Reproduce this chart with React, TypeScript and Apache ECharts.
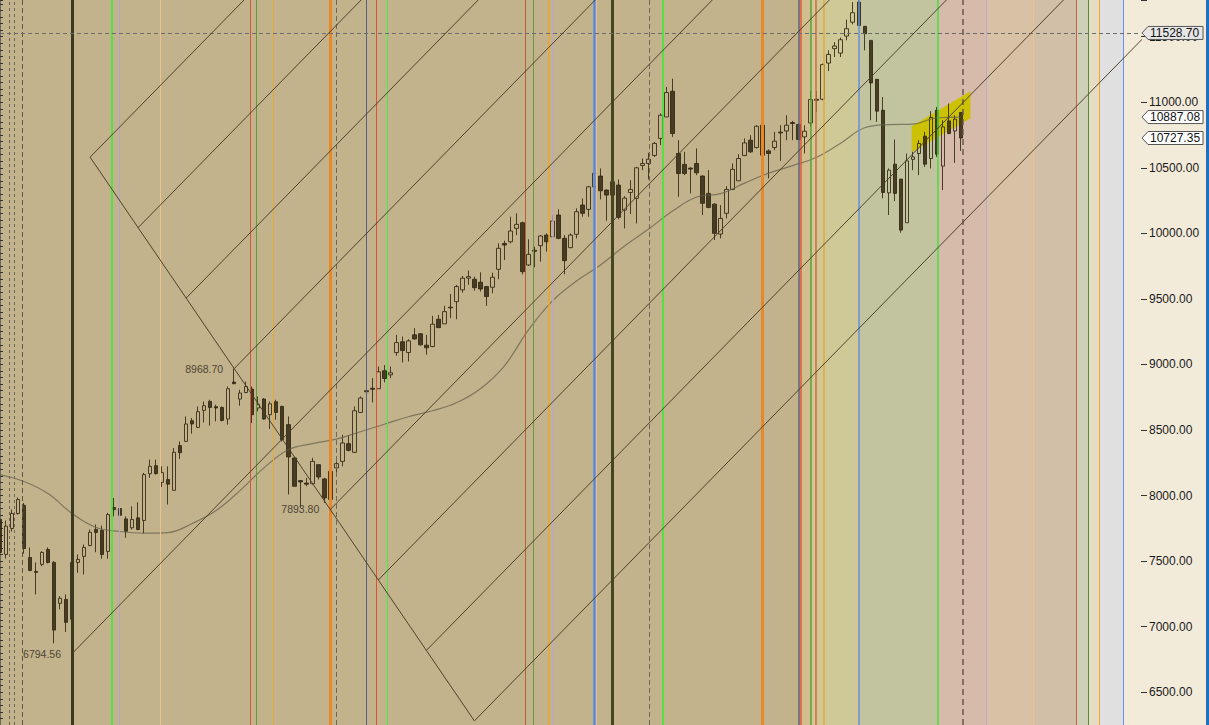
import React, { useEffect, useRef } from "react";
import * as echarts from "echarts";

// ---------- data ----------
const CATEGORY_COUNT = 191;
const categories = Array.from({ length: CATEGORY_COUNT }, (_, i) => String(i));

// [open, close, low, high]
const candles: number[][] = [
  [7817, 7566, 7528, 7855], [7551, 7766, 7520, 7810], [7749, 7863, 7726, 7893], [7863, 7970, 7855, 7985],
  [7926, 7596, 7556, 7944], [7528, 7429, 7424, 7604], [7421, 7414, 7246, 7490], [7475, 7566, 7462, 7576],
  [7589, 7490, 7482, 7604], [7490, 6974, 6873, 7500], [7178, 7216, 7132, 7233], [7208, 7033, 6959, 7246],
  [7056, 7490, 6794.56, 7495], [7490, 7513, 7411, 7551], [7536, 7604, 7398, 7627], [7619, 7720, 7614, 7741],
  [7741, 7718, 7568, 7779], [7733, 7551, 7518, 7771], [7574, 7855, 7518, 7868], [7909, 7893, 7842, 7982],
  [7901, 7850, 7842, 7990], [7822, 7728, 7678, 7842], [7754, 7817, 7741, 7918], [7830, 7741, 7736, 7949],
  [7810, 8160, 7711, 8173], [8167, 8223, 8135, 8274], [8228, 8167, 8160, 8274], [8101, 8175, 8066, 8223],
  [8122, 8087, 7931, 8223], [8040, 8330, 8040, 8363], [8381, 8327, 8279, 8413], [8413, 8546, 8413, 8604],
  [8571, 8546, 8472, 8592], [8520, 8640, 8515, 8680], [8650, 8685, 8558, 8718], [8718, 8672, 8533, 8731],
  [8678, 8668, 8566, 8693], [8672, 8573, 8566, 8680], [8584, 8815, 8541, 8832], [8866, 8853, 8850, 8968.7],
  [8736, 8782, 8685, 8807], [8786, 8832, 8782, 8870], [8812, 8617, 8553, 8832], [8668, 8693, 8642, 8756],
  [8736, 8584, 8579, 8744], [8617, 8700, 8508, 8718], [8716, 8634, 8579, 8731], [8680, 8426, 8413, 8685],
  [8541, 8295, 8008, 8604], [8287, 8071, 8071, 8295], [8114, 8104, 7906, 8117], [8095, 8087, 8071, 8135],
  [8091, 8261, 8084, 8287], [8236, 8142, 8122, 8236], [8127, 7982, 7944, 8135], [7970, 8185, 7893.8, 8185],
  [8211, 8244, 8147, 8261], [8261, 8401, 8223, 8464], [8396, 8345, 8337, 8457], [8330, 8647, 8325, 8680],
  [8634, 8744, 8630, 8756], [8800, 8792, 8706, 8889], [8818, 8811, 8710, 8896], [8815, 8944, 8815, 8984],
  [8952, 8893, 8863, 8995], [8921, 8937, 8896, 8984], [9091, 9167, 9066, 9226], [9173, 9106, 9015, 9213],
  [9091, 9180, 9023, 9193], [9226, 9195, 9188, 9277], [9234, 9150, 9144, 9239], [9147, 9127, 9074, 9226],
  [9137, 9307, 9132, 9371], [9345, 9281, 9277, 9378], [9310, 9403, 9310, 9447], [9437, 9432, 9353, 9538],
  [9479, 9594, 9345, 9607], [9569, 9658, 9548, 9675], [9658, 9670, 9607, 9716], [9650, 9586, 9563, 9670],
  [9627, 9576, 9556, 9703], [9594, 9518, 9447, 9599], [9589, 9665, 9543, 9700], [9726, 9886, 9650, 9924],
  [9923, 9911, 9797, 9944], [9936, 10018, 9924, 10127], [10038, 10069, 9987, 10153], [10081, 9708, 9688, 10089],
  [9759, 9840, 9751, 9955], [9871, 9863, 9741, 9898], [9906, 9980, 9784, 9987], [9987, 9936, 9860, 10000],
  [9974, 10094, 9974, 10140], [10140, 9962, 9955, 10183], [9962, 9792, 9688, 9987], [9891, 9987, 9886, 10000],
  [9993, 10165, 9962, 10191], [10216, 10153, 10127, 10267], [10183, 10355, 10127, 10360], [10355, 10459, 10330, 10498],
  [10437, 10325, 10259, 10495], [10330, 10292, 10096, 10335], [10292, 10393, 10284, 10421], [10368, 10122, 10107, 10411],
  [10178, 10269, 10038, 10284], [10312, 10335, 10147, 10406], [10267, 10500, 10076, 10507], [10518, 10533, 10482, 10571],
  [10533, 10566, 10411, 10614], [10594, 10686, 10583, 10698], [10724, 10901, 10673, 10914], [10888, 11074, 10888, 11117],
  [11084, 10762, 10736, 11180], [10609, 10457, 10279, 10711], [10526, 10457, 10444, 10622], [10498, 10490, 10305, 10503],
  [10533, 10462, 10444, 10648], [10437, 10229, 10140, 10444], [10305, 10198, 10191, 10482], [10223, 10000, 9949, 10229],
  [9995, 10114, 9962, 10216], [10153, 10335, 10114, 10360], [10335, 10488, 10330, 10533], [10401, 10571, 10401, 10604],
  [10594, 10690, 10589, 10724], [10711, 10622, 10614, 10749], [10655, 10817, 10647, 10825], [10825, 10596, 10596, 10825],
  [10629, 10609, 10419, 10640], [10655, 10703, 10634, 10774], [10772, 10766, 10553, 10825], [10781, 10825, 10711, 10901],
  [10845, 10838, 10711, 10858], [10830, 10716, 10711, 10838], [10736, 10779, 10609, 10825], [10842, 11021, 10812, 11086],
  [11023, 11015, 10926, 11086], [11023, 11287, 11015, 11295], [11299, 11365, 11238, 11396], [11409, 11429, 11345, 11459],
  [11375, 11477, 11345, 11493], [11505, 11561, 11472, 11630], [11611, 11683, 11594, 11764], [11764, 11586, 11586, 11790],
  [11579, 11523, 11396, 11579], [11472, 11147, 10863, 11472], [11175, 10932, 10850, 11175], [10939, 10312, 10267, 11040],
  [10309, 10482, 10140, 10495], [10528, 10305, 10246, 10716], [10414, 10025, 10005, 10414], [10081, 10553, 10081, 10609],
  [10564, 10583, 10482, 10622], [10609, 10686, 10444, 10711], [10741, 10528, 10507, 10774], [10571, 10884, 10495, 10932],
  [10939, 10604, 10583, 10964], [10513, 10812, 10330, 10863], [10858, 10762, 10756, 10990], [10781, 10871, 10538, 10901],
  [10922, 10727.35, 10629, 10922],
];

// moving average: [bar, value]
const maPoints: number[][] = [
  [0, 8160], [4, 8107], [8, 8015], [12, 7863], [16, 7756], [20, 7726], [24, 7714], [28, 7718],
  [32, 7787], [36, 7886], [40, 8040], [44, 8213], [48, 8350], [52, 8396], [56, 8430], [60, 8487],
  [64, 8544], [68, 8601], [72, 8647], [76, 8708], [80, 8815], [84, 8990], [88, 9264], [92, 9485],
  [96, 9637], [100, 9759], [104, 9904], [108, 10033], [112, 10170], [116, 10277], [120, 10303], [124, 10383],
  [128, 10459], [132, 10517], [136, 10581], [140, 10688], [144, 10806], [148, 10829], [152, 10833], [156, 10882],
  [160, 10887.08],
];

const extremes = [
  { bar: 12, value: 6794.56, text: "6794.56" },
  { bar: 39, value: 8968.7, text: "8968.70" },
  { bar: 55, value: 7893.8, text: "7893.80" },
];

const priceTags = [
  { value: 11528.7, text: "11528.70", fill: "#e6e6e6" },
  { value: 10887.08, text: "10887.08", fill: "#ffffff" },
  { value: 10727.35, text: "10727.35", fill: "#ffffff" },
];

const horizontalLevel = 11528.7;

// gann-style fan anchors
const fanHigh = { bar: 39, value: 8968.7 };
const fanLow = { bar: 55, value: 7893.8 };
const baseLow = { bar: 12, value: 6794.56 };
const fanStartBars = [15, 23, 31, 39, 55, 63, 71, 79];
const fanFirst = 15;
const fanLast = 79;

const bands = [
  { from: 133, to: 135, color: "#D1BD8E" },
  { from: 135, to: 143, color: "#CFC897" },
  { from: 143, to: 156.17, color: "#C2C39F" },
  { from: 156.17, to: 164.2, color: "#D6BBAB" },
  { from: 164.2, to: 172, color: "#D8C2A5" },
  { from: 172, to: 179.23, color: "#D1BFA8" },
  { from: 179.23, to: 181.17, color: "#CED1B6" },
  { from: 181.17, to: 183.07, color: "#E6DBC3" },
  { from: 183.07, to: 187, color: "#E0E0E0" },
  { from: 187, to: 190, color: "#F3EBDA" },
];

const verticalLines: { bar: number; color: string; width: number; type?: any }[] = [
  { bar: 1.5, color: "#6f6655", width: 1, type: [3, 3] },
  { bar: 2.45, color: "#6f6655", width: 1, type: [3, 3] },
  { bar: 3.67, color: "#5f5645", width: 1, type: [5, 3] },
  { bar: 12, color: "#3a3a1e", width: 3 },
  { bar: 18.67, color: "#2ef02e", width: 1.5 },
  { bar: 19.83, color: "#b4a5c4", width: 1 },
  { bar: 26.73, color: "#f3c08c", width: 1 },
  { bar: 41.67, color: "#d8583a", width: 1 },
  { bar: 42.67, color: "#5aa03a", width: 1 },
  { bar: 45.5, color: "#e6a838", width: 1 },
  { bar: 55, color: "#e8882a", width: 3 },
  { bar: 56, color: "#6f6655", width: 1, type: [5, 3] },
  { bar: 61, color: "#5c6080", width: 1 },
  { bar: 62.73, color: "#e05030", width: 1 },
  { bar: 64.5, color: "#44ee44", width: 1 },
  { bar: 87.5, color: "#b86038", width: 1 },
  { bar: 88.83, color: "#6a9a48", width: 1 },
  { bar: 91.4, color: "#e6a830", width: 1.5 },
  { bar: 92, color: "#c0a8c0", width: 1.5 },
  { bar: 99, color: "#5a8ae0", width: 2.5 },
  { bar: 99.28, color: "#f0c090", width: 1 },
  { bar: 102, color: "#45451f", width: 3 },
  { bar: 108.17, color: "#6f6655", width: 1, type: [5, 3] },
  { bar: 110.4, color: "#2ef02e", width: 1.5 },
  { bar: 127, color: "#e8882a", width: 3 },
  { bar: 133, color: "#5c6080", width: 1.5 },
  { bar: 133.33, color: "#e05a30", width: 1.5 },
  { bar: 135, color: "#5aa03a", width: 1.5 },
  { bar: 135.83, color: "#d86a3a", width: 1.5 },
  { bar: 137.17, color: "#e6a838", width: 1.5 },
  { bar: 143, color: "#6a90d8", width: 1.5 },
  { bar: 156.17, color: "#44e044", width: 1.5 },
  { bar: 160.33, color: "#6a5850", width: 1.5, type: [6, 4] },
  { bar: 164.2, color: "#c4a8c8", width: 1 },
  { bar: 172, color: "#f3c08c", width: 1 },
  { bar: 179.23, color: "#c86050", width: 1 },
  { bar: 181.17, color: "#5a8a40", width: 1 },
  { bar: 183.07, color: "#f0a830", width: 1 },
  { bar: 187, color: "#6a90f0", width: 1 },
];

const highlightBox = { fromBar: 151.8, toBar: 161.6, fromLow: 10619, fromHigh: 10817, toLow: 10878, toHigh: 11084 };

const Y_MIN = 6250;
const Y_MAX = 11780;

export default function App() {
  const ref = useRef<HTMLDivElement>(null);

  useEffect(() => {
    if (!ref.current) return;
    const chart = echarts.init(ref.current, undefined, { renderer: "svg" });

    const fanSlope = (fanHigh.value - fanLow.value) / (fanLow.bar - fanHigh.bar);
    const onFan = (b: number) => fanHigh.value - fanSlope * (b - fanHigh.bar);
    const midBar = (fanHigh.bar + fanLow.bar) / 2;
    const riseSlope = (onFan(midBar) - baseLow.value) / (midBar - baseLow.bar);
    const span = 160;

    const lineStyle = { color: "rgba(72,60,38,0.95)", width: 1 };
    const fanSeries: any[] = [];
    const mkLine = (pts: number[][]) => ({
      type: "line",
      xAxisIndex: 1,
      yAxisIndex: 0,
      data: pts,
      showSymbol: false,
      symbol: "none",
      lineStyle,
      silent: true,
      z: 5,
    });
    fanSeries.push(mkLine([[fanFirst, onFan(fanFirst)], [fanLast, onFan(fanLast)]]));
    fanSeries.push(mkLine([[baseLow.bar, baseLow.value], [baseLow.bar + span, baseLow.value + span * riseSlope]]));
    fanStartBars.forEach((b) => {
      const v = onFan(b);
      fanSeries.push(mkLine([[b, v], [b + span, v + span * riseSlope]]));
    });

    const candleColor = "rgba(50,40,18,0.86)";

    const option: any = {
      animation: false,
      backgroundColor: "transparent",
      grid: { left: 0, right: 68, top: 0, bottom: 0, show: true, backgroundColor: "#C3B38C", borderWidth: 0 },
      xAxis: [
        { type: "category", data: categories, boundaryGap: false, show: false },
        { type: "value", min: 0, max: CATEGORY_COUNT - 1, show: false },
      ],
      yAxis: [
        {
          type: "value",
          position: "right",
          min: Y_MIN,
          max: Y_MAX,
          interval: 50,
          axisLine: { show: true, lineStyle: { color: "#6a6a5e", width: 1 } },
          axisTick: { show: true, length: 3, lineStyle: { color: "#333" } },
          splitLine: { show: false },
          axisLabel: {
            show: true,
            margin: 8,
            color: "#1a1a1a",
            fontFamily: "Liberation Sans",
            fontSize: 12,
            formatter: (v: number) => (Math.abs(v % 500) < 1e-6 ? v.toFixed(2) : ""),
          },
        },
        {
          type: "value",
          position: "right",
          min: Y_MIN,
          max: Y_MAX,
          splitNumber: 11,
          axisLine: { show: false },
          axisTick: { show: true, length: 6, lineStyle: { color: "#333" } },
          splitLine: { show: false },
          axisLabel: { show: false },
        },
      ],
      series: [
        {
          type: "line",
          xAxisIndex: 1,
          yAxisIndex: 0,
          data: [[0, Y_MIN]],
          symbol: "none",
          lineStyle: { width: 0 },
          silent: true,
          z: 1,
          markArea: {
            silent: true,
            data: bands.map((b) => [{ xAxis: b.from, itemStyle: { color: b.color } }, { xAxis: b.to }]),
          },
        },
        {
          type: "custom",
          xAxisIndex: 1,
          yAxisIndex: 0,
          data: [[highlightBox.fromBar, highlightBox.fromLow]],
          silent: true,
          z: 2,
          renderItem: (_p: any, api: any) => ({
            type: "polygon",
            shape: {
              points: [
                api.coord([highlightBox.fromBar, highlightBox.fromLow]),
                api.coord([highlightBox.fromBar, highlightBox.fromHigh]),
                api.coord([highlightBox.toBar, highlightBox.toHigh]),
                api.coord([highlightBox.toBar, highlightBox.toLow]),
              ],
            },
            style: { fill: "#CCC102" },
          }),
        },
        {
          type: "candlestick",
          xAxisIndex: 0,
          yAxisIndex: 0,
          data: candles,
          barWidth: 4,
          z: 3,
          itemStyle: {
            color: "rgba(0,0,0,0)",
            color0: candleColor,
            borderColor: candleColor,
            borderColor0: candleColor,
            borderWidth: 1,
          },
        },
        {
          type: "line",
          xAxisIndex: 1,
          yAxisIndex: 0,
          data: maPoints,
          smooth: 0.4,
          symbol: "none",
          showSymbol: false,
          lineStyle: { color: "rgba(100,94,74,0.72)", width: 1.2 },
          silent: true,
          z: 4,
          markPoint: {
            symbol: "rect",
            symbolSize: 0,
            silent: true,
            label: {
              show: true,
              position: "left",
              distance: 11,
              color: "#4d4535",
              fontFamily: "Liberation Sans",
              fontSize: 10.5,
              formatter: (p: any) => p.name,
            },
            data: extremes.map((e) => ({ name: e.text, coord: [e.bar, e.value] })),
          },
        },
        ...fanSeries,
        {
          type: "line",
          xAxisIndex: 1,
          yAxisIndex: 0,
          data: [[0, Y_MIN]],
          symbol: "none",
          lineStyle: { width: 0 },
          silent: true,
          z: 6,
          markLine: {
            silent: true,
            symbol: ["none", "none"],
            label: { show: false },
            data: [
              ...verticalLines.map((l) => ({
                xAxis: l.bar,
                lineStyle: { color: l.color, width: l.width, type: l.type || "solid", opacity: 1 },
              })),
              { yAxis: horizontalLevel, lineStyle: { color: "#6c6c6c", width: 1, type: [4, 3], opacity: 1 } },
            ],
          },
        },
      ],
    };

    chart.setOption(option);

    const axisX = 1141;
    const tagGraphics = priceTags.map((t) => {
      const y = chart.convertToPixel({ yAxisIndex: 0 }, t.value) as number;
      return {
        type: "group",
        z: 100,
        children: [
          {
            type: "polygon",
            z: 100,
            shape: {
              points: [
                [axisX + 1, y],
                [axisX + 7, y - 6.5],
                [axisX + 62, y - 6.5],
                [axisX + 62, y + 6.5],
                [axisX + 7, y + 6.5],
              ],
            },
            style: { fill: t.fill, stroke: "#555", lineWidth: 1 },
          },
          {
            type: "text",
            z: 101,
            x: axisX + 9,
            y: y,
            style: {
              text: t.text,
              fill: "#111",
              fontFamily: "Liberation Sans",
              fontSize: 12,
              verticalAlign: "middle",
              align: "left",
            },
          },
        ],
      };
    });
    chart.setOption({ graphic: tagGraphics });

    return () => chart.dispose();
  }, []);

  return (
    <div style={{ position: "fixed", left: 0, top: 0, width: 1209, height: 725, background: "#F3EBDA" }}>
      <div ref={ref} style={{ position: "absolute", left: 0, top: 0, width: 1209, height: 725 }} />
      <div style={{ position: "absolute", left: 1206, top: 0, width: 3, height: 725, background: "#1f6fc0" }} />
    </div>
  );
}
